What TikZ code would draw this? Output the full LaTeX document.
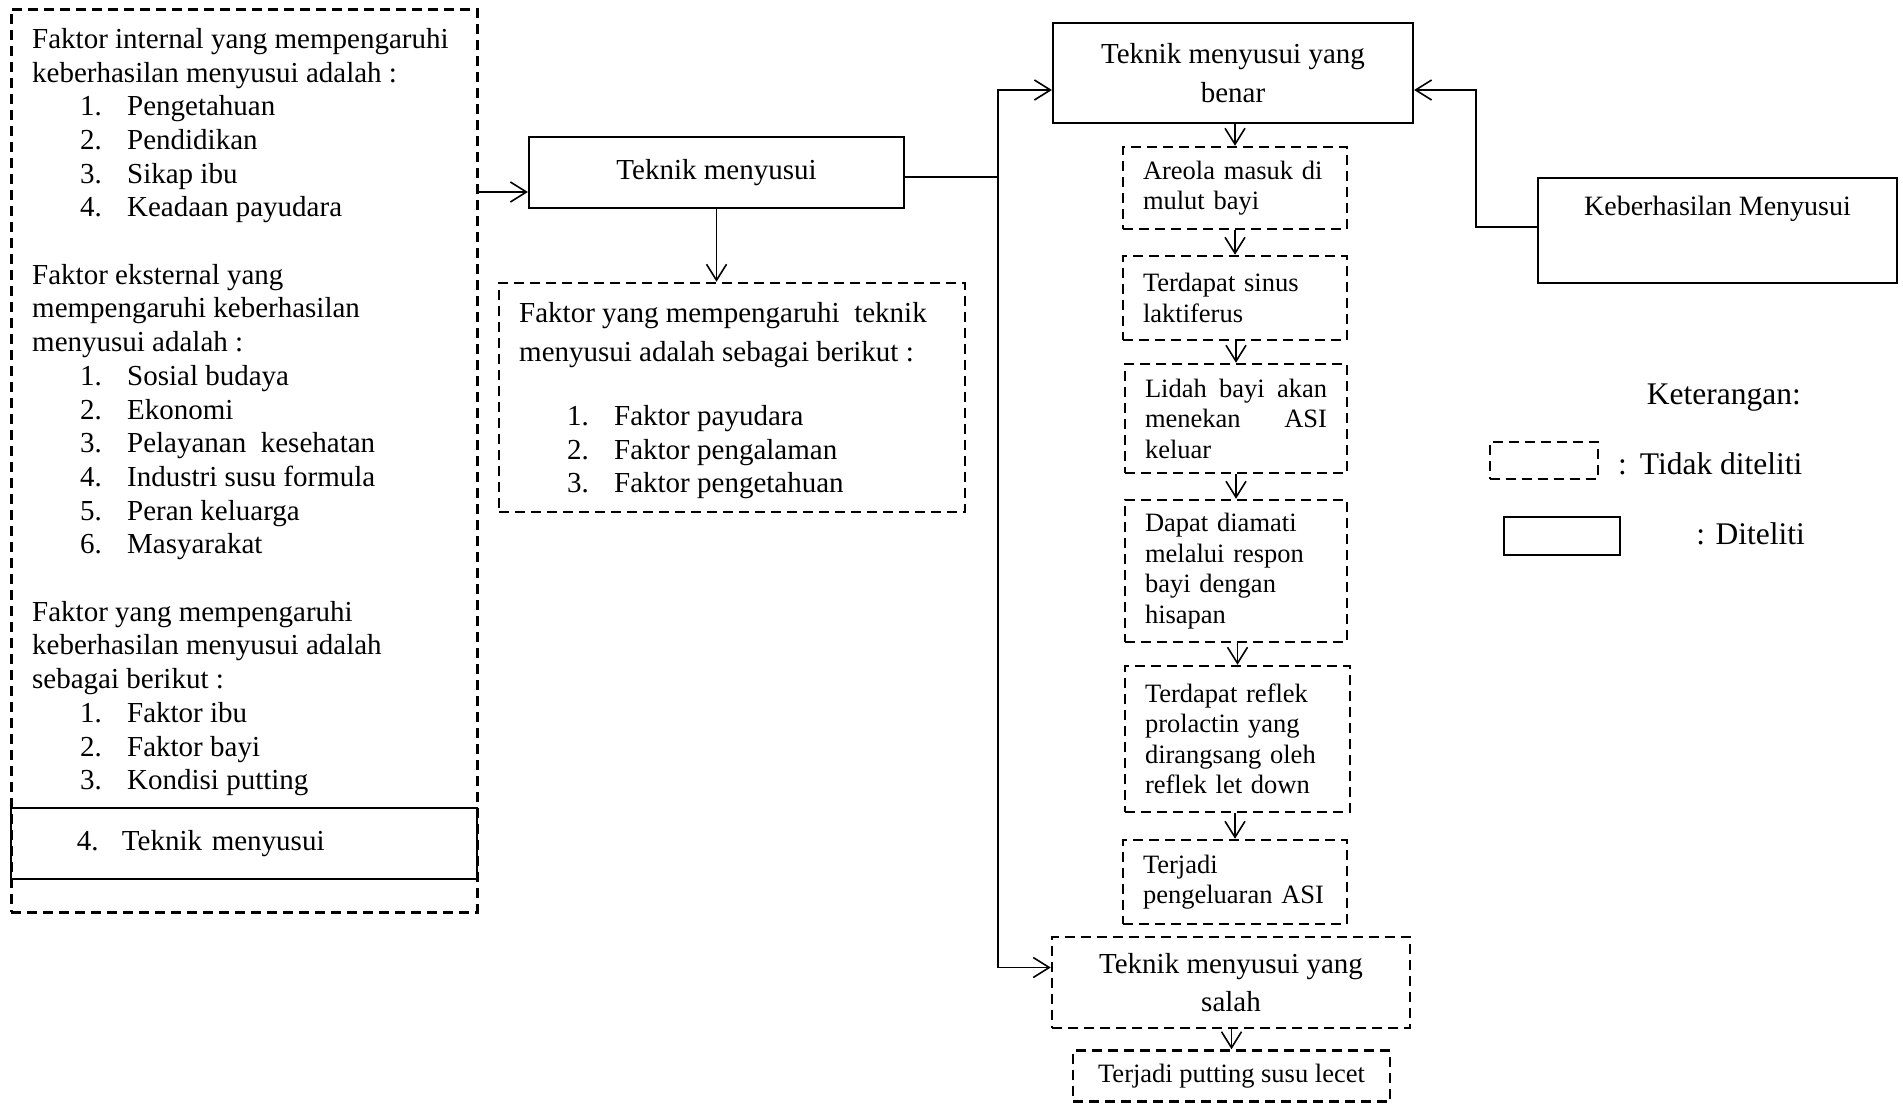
\documentclass[tikz,border=0pt]{standalone}
\usepackage{fontspec}
\setmainfont{Liberation Serif}
\usetikzlibrary{arrows.meta}
\newcommand{\nitem}[2]{\hspace*{48pt}\makebox[47pt][l]{#1}#2}

\begin{document}
\begin{tikzpicture}[x=1pt, y=-1pt,
  solidbox/.style={draw, line width=2.2pt},
  dashbox/.style={draw, line width=2.5pt, dash pattern=on 10pt off 6pt},
  bigtext/.style={font=\fontsize{29}{33.7}\selectfont},
  smalltext/.style={font=\fontsize{26.5}{30.5}\selectfont},
  legtext/.style={font=\fontsize{31.5}{36}\selectfont, inner sep=0pt},
  stepnote/.style={dashbox, smalltext, inner xsep=20pt, inner ysep=0pt, align=left, text width=#1},
  link/.style={line width=1.6pt, -{Straight Barb[length=16pt, width=20pt]}}]
\useasboundingbox (0,0) rectangle (1903,1103);

% Left column: factors
\node[dashbox, minimum width=466pt, minimum height=903pt, anchor=north west] (faktor) at (10,8) {};
\node[bigtext, align=left, inner sep=0pt, anchor=north west] (faktortext) at (32,28) {Faktor internal yang mempengaruhi\\
  keberhasilan menyusui adalah :\\
  \nitem{1.}{Pengetahuan}\\
  \nitem{2.}{Pendidikan}\\
  \nitem{3.}{Sikap ibu}\\
  \nitem{4.}{Keadaan payudara}\\[33.7pt]
  Faktor eksternal yang\\
  mempengaruhi keberhasilan\\
  menyusui adalah :\\
  \nitem{1.}{Sosial budaya}\\
  \nitem{2.}{Ekonomi}\\
  \nitem{3.}{Pelayanan\ \ kesehatan}\\
  \nitem{4.}{Industri susu formula}\\
  \nitem{5.}{Peran keluarga}\\
  \nitem{6.}{Masyarakat}\\[33.7pt]
  Faktor yang mempengaruhi\\
  keberhasilan menyusui adalah\\
  sebagai berikut :\\
  \nitem{1.}{Faktor ibu}\\
  \nitem{2.}{Faktor bayi}\\
  \nitem{3.}{Kondisi putting}};
\node[solidbox, bigtext, minimum width=466pt, minimum height=71pt, text width=466pt, inner xsep=0pt, align=left] (teknik4) at (244,843.5) {\hspace*{66pt}\makebox[45pt][l]{4.}Teknik menyusui};

% Middle column
\node[solidbox, bigtext, minimum width=375pt, minimum height=71pt] (tm) at (716.5,172.5) {Teknik menyusui};
\node[dashbox, minimum width=466pt, minimum height=229pt] (fmt) at (732,397.5) {};
\node[bigtext, align=left, inner sep=0pt, anchor=north west] (fmttext) at (519,302) {Faktor yang mempengaruhi\ \ teknik\\[5.3pt]
  menyusui adalah sebagai berikut :\\[30.3pt]
  \nitem{1.}{Faktor payudara}\\
  \nitem{2.}{Faktor pengalaman}\\
  \nitem{3.}{Faktor pengetahuan}};

% Right column: steps
\node[solidbox, bigtext, align=center, minimum width=360pt, minimum height=100pt] (benar) at (1233,73) {Teknik menyusui yang\\[5.3pt] benar};
\node[stepnote=184pt, minimum height=82pt] (areola) at (1235,188) {Areola masuk di\\ mulut bayi};
\node[stepnote=184pt, minimum height=84pt] (sinus) at (1235,298) {Terdapat sinus\\ laktiferus};
\node[stepnote=182pt, minimum height=109pt] (lidah) at (1236,418.5) {Lidah\hfill bayi\hfill akan\\ menekan\hfill ASI\\ keluar};
\node[stepnote=182pt, minimum height=142pt] (dapat) at (1236,571) {Dapat diamati\\ melalui respon\\ bayi dengan\\ hisapan};
\node[stepnote=185pt, minimum height=146pt] (reflek) at (1237.5,739) {Terdapat reflek\\ prolactin yang\\ dirangsang oleh\\ reflek let down};
\node[stepnote=184pt, minimum height=84pt] (terjadi) at (1235,882) {Terjadi\\ pengeluaran ASI};
\node[dashbox, bigtext, align=center, minimum width=358pt, minimum height=91pt] (salah) at (1231,982.5) {Teknik menyusui yang\\[4.3pt] salah};
\node[dashbox, smalltext, minimum width=317pt, minimum height=51pt] (lecet) at (1231.5,1076) {Terjadi putting susu lecet};

% Outcome
\node[solidbox, font=\fontsize{28}{33}\selectfont, minimum width=359pt, inner sep=8pt, text height=29pt, text depth=60pt] (kb) at (1717.5,230.5) {Keberhasilan Menyusui};

% Legend
\node[legtext, anchor=base east] (ket) at (1801,404) {Keterangan:};
\node[dashbox, minimum width=108pt, minimum height=37pt] (legdash) at (1544,460.5) {};
\node[legtext, anchor=base west] (legdashtxt) at (1618,474) {:\hspace{13pt}Tidak diteliti};
\node[solidbox, minimum width=116pt, minimum height=38pt] (legsolid) at (1562,536) {};
\node[legtext, anchor=base east] (legsolidtxt) at (1805,544) {: Diteliti};

% Connectors
\coordinate (tmin) at ([yshift=-19.5pt]tm.west);
\draw[link] (faktor.east |- tmin) -- (tmin);
\draw[link] (tm.south) -- (tm.south |- fmt.north);
\coordinate (split) at (998,177);
\draw[line width=1.6pt] (tm.east |- split) -- (split);
\draw[link] (split) |- ([yshift=-17pt]benar.west);
\draw[link] (split) |- ([yshift=15pt]salah.west);
\draw[link] ([yshift=3.5pt]kb.west) -- ++(-61pt,0) |- ([yshift=-17pt]benar.east);
\foreach \a/\b in {benar/areola, areola/sinus, sinus/lidah, lidah/dapat, dapat/reflek, reflek/terjadi, salah/lecet}
  \draw[link] (\b.north |- \a.south) -- (\b.north);
\end{tikzpicture}
\end{document}
